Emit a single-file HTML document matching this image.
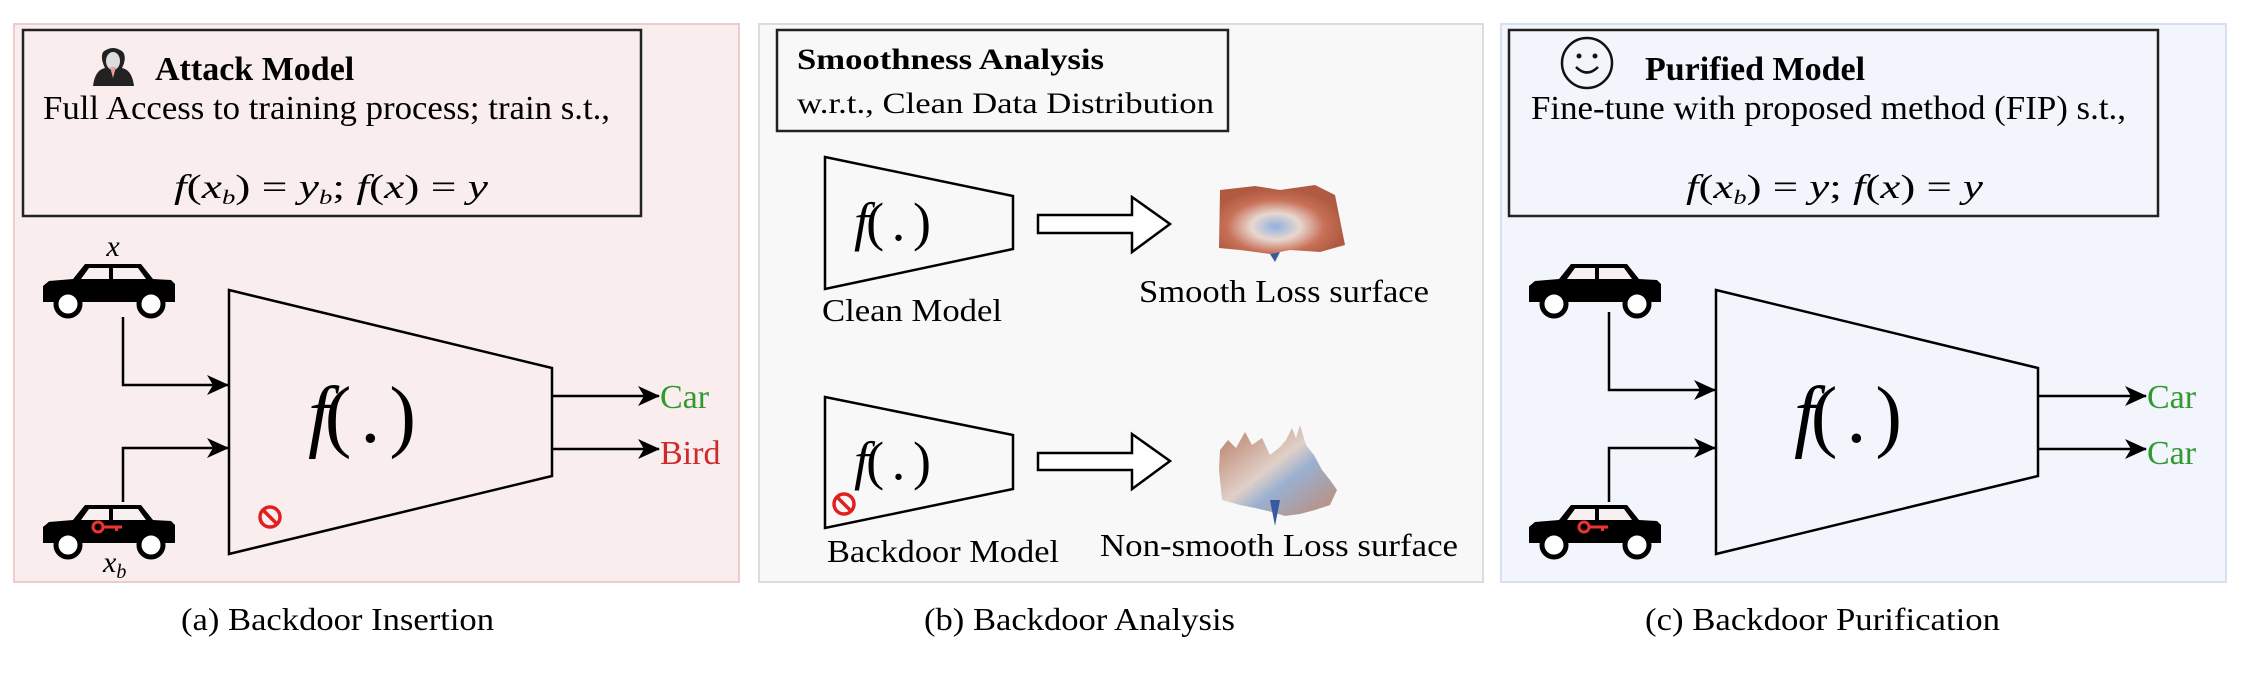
<!DOCTYPE html>
<html><head><meta charset="utf-8"><style>
html,body{margin:0;padding:0;background:#fff;}
svg{display:block;font-family:"Liberation Serif",serif;}
</style></head><body>
<svg width="2250" height="674" viewBox="0 0 2250 674" xmlns="http://www.w3.org/2000/svg">
<defs>
  <g id="car">
    <path d="M0,22 L6,17 L30,15 L42,0 L98,0 L110,15 L128,16 L132,20 L132,38 L0,38 Z" fill="#000"/>
    <path d="M46,4 L66,4 L66,15 L38,15 Z M70,4 L95,4 L103,15 L70,15 Z" fill="#f8f0f0"/>
    <circle cx="25" cy="40" r="12" fill="#fff" stroke="#000" stroke-width="5"/>
    <circle cx="108" cy="40" r="12" fill="#fff" stroke="#000" stroke-width="5"/>
  </g>
  <g id="key">
    <circle cx="0" cy="0" r="5" fill="none" stroke="#e33" stroke-width="3"/>
    <path d="M5,-1.5 L24,-1.5 L24,1.5 L20,1.5 L20,4 L17,4 L17,1.5 L5,1.5 Z" fill="#e33"/>
  </g>
  <g id="noentry">
    <circle cx="0" cy="0" r="10" fill="none" stroke="#e02020" stroke-width="3.5"/>
    <line x1="-7" y1="-7" x2="7" y2="7" stroke="#e02020" stroke-width="3.5"/>
  </g>
  <marker id="ah" markerWidth="22" markerHeight="20" refX="21" refY="10" orient="auto" markerUnits="userSpaceOnUse">
    <path d="M0,0 L22,10 L0,20 L6,10 Z" fill="#000"/>
  </marker>
  <radialGradient id="smoothg" cx="0.45" cy="0.6" r="0.55">
    <stop offset="0" stop-color="#8fb0e0"/>
    <stop offset="0.35" stop-color="#e8d8d0"/>
    <stop offset="0.7" stop-color="#c87058"/>
    <stop offset="1" stop-color="#b05a42"/>
  </radialGradient>
  <linearGradient id="roughg" x1="0" y1="0" x2="1" y2="1">
    <stop offset="0" stop-color="#b87860"/>
    <stop offset="0.45" stop-color="#e0d0c8"/>
    <stop offset="0.6" stop-color="#9ab0d0"/>
    <stop offset="1" stop-color="#c08a70"/>
  </linearGradient>
</defs>

<!-- Panel A -->
<g>
  <rect x="14" y="24" width="725" height="558" fill="#f9eded" stroke="#edcccc" stroke-width="2"/>
  <rect x="23" y="30" width="618" height="186" fill="none" stroke="#222" stroke-width="2.5"/>
  <g>
    <path d="M93,86 Q95,70 105,68 Q100,58 103,52 Q113,44 123,52 Q127,58 122,68 Q132,70 134,86 Z" fill="#222"/>
    <ellipse cx="113" cy="61" rx="7" ry="9" fill="#ddd"/>
    <path d="M110,67 L113,78 L116,67 Z" fill="#e8a0a0"/>
  </g>
  <text x="155" y="80" font-size="34" font-weight="bold">Attack Model</text>
  <text x="43" y="119" font-size="34" textLength="567" lengthAdjust="spacingAndGlyphs">Full Access to training process; train s.t.,</text>
  <text x="174" y="198" font-size="34" textLength="314" lengthAdjust="spacingAndGlyphs"><tspan font-style="italic">f</tspan>(<tspan font-style="italic">x</tspan><tspan font-size="20" font-style="italic" dy="6">b</tspan><tspan dy="-6">) = </tspan><tspan font-style="italic">y</tspan><tspan font-size="20" font-style="italic" dy="6">b</tspan><tspan dy="-6">;  </tspan><tspan font-style="italic">f</tspan>(<tspan font-style="italic">x</tspan>) = <tspan font-style="italic">y</tspan></text>
  <text x="113" y="256" font-size="30" font-style="italic" text-anchor="middle">x</text>
  <use href="#car" x="43" y="264"/>
  <use href="#car" x="43" y="505"/>
  <use href="#key" x="98" y="527"/>
  <text x="103" y="572" font-size="30" font-style="italic">x<tspan font-size="20" dy="6">b</tspan></text>
  <polygon points="229,290 552,368 552,476 229,554" fill="none" stroke="#000" stroke-width="2.5"/>
  <text x="362" y="442" font-size="80" text-anchor="middle" textLength="108" lengthAdjust="spacing"><tspan font-style="italic">f</tspan>( . )</text>
  <use href="#noentry" x="270" y="517"/>
  <polyline points="123,317 123,385 228,385" fill="none" stroke="#000" stroke-width="2.5" marker-end="url(#ah)"/>
  <polyline points="123,502 123,448 228,448" fill="none" stroke="#000" stroke-width="2.5" marker-end="url(#ah)"/>
  <line x1="552" y1="396" x2="659" y2="396" stroke="#000" stroke-width="2.5" marker-end="url(#ah)"/>
  <line x1="552" y1="449" x2="659" y2="449" stroke="#000" stroke-width="2.5" marker-end="url(#ah)"/>
  <text x="660" y="408" font-size="34" fill="#2f9a2f">Car</text>
  <text x="660" y="464" font-size="34" fill="#cc2b2b">Bird</text>
</g>
<text x="181" y="630" font-size="32" textLength="313" lengthAdjust="spacingAndGlyphs">(a) Backdoor Insertion</text>

<!-- Panel B -->
<g>
  <rect x="759" y="24" width="724" height="558" fill="#f8f8f8" stroke="#dcdcdc" stroke-width="2"/>
  <rect x="777" y="30" width="451" height="101" fill="none" stroke="#222" stroke-width="2.5"/>
  <text x="797" y="69" font-size="30" font-weight="bold" textLength="307" lengthAdjust="spacingAndGlyphs">Smoothness Analysis</text>
  <text x="797" y="113" font-size="30" textLength="417" lengthAdjust="spacingAndGlyphs">w.r.t., Clean Data Distribution</text>
  <polygon points="825,157 1013,196 1013,249 825,289" fill="none" stroke="#000" stroke-width="2.5"/>
  <text x="854" y="240" font-size="54" textLength="77" lengthAdjust="spacing"><tspan font-style="italic">f</tspan>( . )</text>
  <text x="822" y="321" font-size="32" textLength="180" lengthAdjust="spacingAndGlyphs">Clean Model</text>
  <polygon points="1038,215 1132,215 1132,197 1170,224 1132,252 1132,233 1038,233" fill="#fff" stroke="#000" stroke-width="2.5"/>
  <g>
    <polygon points="1220,190 1255,186 1280,190 1315,185 1335,195 1345,245 1320,252 1290,250 1270,254 1240,250 1219,248" fill="url(#smoothg)"/>
    <path d="M1270,254 L1275,262 L1280,252 Z" fill="#3a5aa0"/>
  </g>
  <text x="1139" y="302" font-size="32" textLength="290" lengthAdjust="spacingAndGlyphs">Smooth Loss surface</text>
  <polygon points="825,397 1013,435 1013,489 825,528" fill="none" stroke="#000" stroke-width="2.5"/>
  <text x="854" y="479" font-size="54" textLength="77" lengthAdjust="spacing"><tspan font-style="italic">f</tspan>( . )</text>
  <use href="#noentry" x="844" y="504"/>
  <text x="827" y="562" font-size="32" textLength="232" lengthAdjust="spacingAndGlyphs">Backdoor Model</text>
  <polygon points="1038,453 1132,453 1132,434 1170,461 1132,489 1132,470 1038,470" fill="#fff" stroke="#000" stroke-width="2.5"/>
  <g>
    <polygon points="1220,450 1228,440 1236,448 1245,432 1252,445 1262,438 1270,455 1280,447 1286,440 1292,428 1296,438 1300,425 1306,445 1314,455 1322,470 1330,480 1337,490 1330,505 1315,510 1300,514 1285,516 1272,512 1255,508 1240,505 1222,500 1219,470" fill="url(#roughg)"/>
    <path d="M1270,500 L1275,526 L1280,500 Z" fill="#3a5aa0"/>
  </g>
  <text x="1100" y="556" font-size="32" textLength="358" lengthAdjust="spacingAndGlyphs">Non-smooth Loss surface</text>
</g>
<text x="924" y="630" font-size="32" textLength="311" lengthAdjust="spacingAndGlyphs">(b) Backdoor Analysis</text>

<!-- Panel C -->
<g>
  <rect x="1501" y="24" width="725" height="558" fill="#f2f5fb" stroke="#d6e0ee" stroke-width="2"/>
  <rect x="1509" y="30" width="649" height="186" fill="none" stroke="#222" stroke-width="2.5"/>
  <g>
    <circle cx="1587" cy="63" r="25" fill="none" stroke="#111" stroke-width="2.5"/>
    <circle cx="1579" cy="56" r="2.5" fill="#111"/>
    <circle cx="1595" cy="56" r="2.5" fill="#111"/>
    <path d="M1576,67 Q1587,78 1598,67" fill="none" stroke="#111" stroke-width="2.5"/>
  </g>
  <text x="1645" y="80" font-size="34" font-weight="bold">Purified Model</text>
  <text x="1531" y="119" font-size="34" textLength="595" lengthAdjust="spacingAndGlyphs">Fine-tune with proposed method (FIP) s.t.,</text>
  <text x="1686" y="198" font-size="34" textLength="297" lengthAdjust="spacingAndGlyphs"><tspan font-style="italic">f</tspan>(<tspan font-style="italic">x</tspan><tspan font-size="20" font-style="italic" dy="6">b</tspan><tspan dy="-6">) = </tspan><tspan font-style="italic">y</tspan>;  <tspan font-style="italic">f</tspan>(<tspan font-style="italic">x</tspan>) = <tspan font-style="italic">y</tspan></text>
  <use href="#car" x="1529" y="264"/>
  <use href="#car" x="1529" y="505"/>
  <use href="#key" x="1584" y="527"/>
  <polygon points="1716,290 2038,368 2038,476 1716,554" fill="none" stroke="#000" stroke-width="2.5"/>
  <text x="1848" y="442" font-size="80" text-anchor="middle" textLength="108" lengthAdjust="spacing"><tspan font-style="italic">f</tspan>( . )</text>
  <polyline points="1609,312 1609,390 1715,390" fill="none" stroke="#000" stroke-width="2.5" marker-end="url(#ah)"/>
  <polyline points="1609,502 1609,448 1715,448" fill="none" stroke="#000" stroke-width="2.5" marker-end="url(#ah)"/>
  <line x1="2038" y1="396" x2="2146" y2="396" stroke="#000" stroke-width="2.5" marker-end="url(#ah)"/>
  <line x1="2038" y1="449" x2="2146" y2="449" stroke="#000" stroke-width="2.5" marker-end="url(#ah)"/>
  <text x="2147" y="408" font-size="34" fill="#2f9a2f">Car</text>
  <text x="2147" y="464" font-size="34" fill="#2f9a2f">Car</text>
</g>
<text x="1645" y="630" font-size="32" textLength="355" lengthAdjust="spacingAndGlyphs">(c) Backdoor Purification</text>
</svg>
</body></html>
